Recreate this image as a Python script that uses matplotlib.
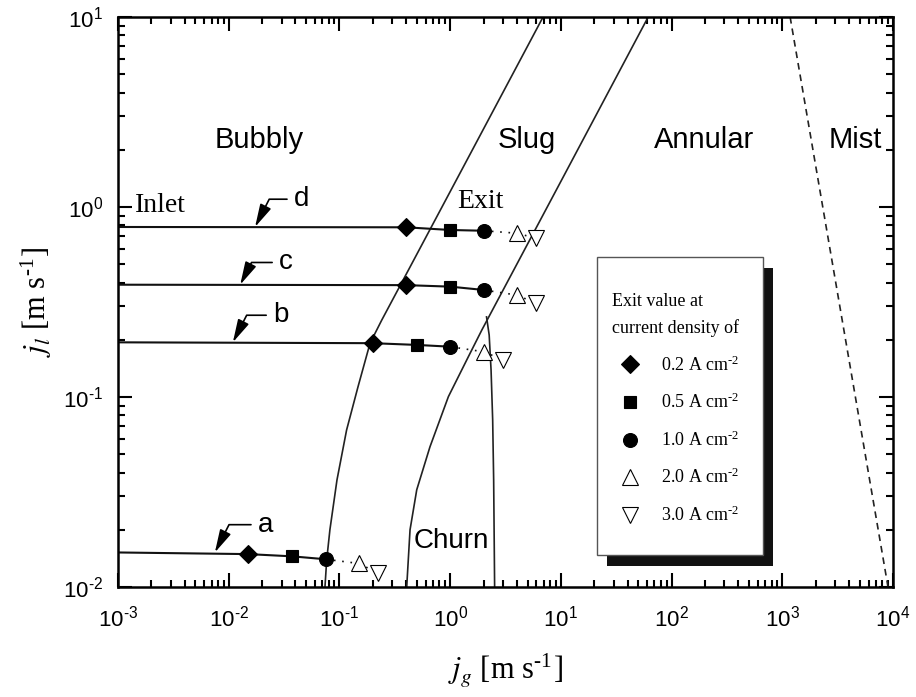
import numpy as np
import matplotlib
matplotlib.use('Agg')
import matplotlib.pyplot as plt
from matplotlib.lines import Line2D
from matplotlib.patches import Rectangle
from matplotlib.ticker import LogLocator, FixedLocator, FuncFormatter, NullFormatter

plt.rcParams['mathtext.fontset'] = 'stix'
plt.rcParams['font.family'] = 'Liberation Sans'

HY = '\u2010'  # short hyphen for exponents

# exit values per current density (A cm-2)
current = [0.2, 0.5, 1.0, 2.0, 3.0]
jg_a = [0.015, 0.0375, 0.075, 0.15, 0.225]
jl_a = [0.0149, 0.0145, 0.0140, 0.0133, 0.0118]
jg_b = [0.2, 0.5, 1.0, 2.0, 3.0]
jl_b = [0.192, 0.188, 0.184, 0.173, 0.157]
jg_c = [0.4, 1.0, 2.0, 4.0, 6.0]
jl_c = [0.388, 0.381, 0.366, 0.344, 0.311]
jg_d = [0.4, 1.0, 2.0, 4.0, 6.0]
jl_d = [0.782, 0.757, 0.750, 0.728, 0.684]
# inlet values
jg_inlet = 1e-3
jl_inlet = {'a': 0.0152, 'b': 0.194, 'c': 0.39, 'd': 0.785}
# tip of the label arrows on each line, and text offsets (pt)
arrow_tip = {'a': (0.0075, 0.0152), 'b': (0.0109, 0.194),
             'c': (0.0127, 0.39), 'd': (0.0173, 0.785)}
label_off = {'a': (31, 20), 'b': (29, 19.5), 'c': (28, 16), 'd': (28, 20)}

# flow regime boundaries
bs_jg = [6.9, 1.61, 0.376, 0.241, 0.189, 0.147, 0.116, 0.095, 0.082, 0.0767, 0.074]
bs_jl = [10, 2.03, 0.413, 0.254, 0.192, 0.113, 0.067, 0.0366, 0.020, 0.01387, 0.01]
sa_jg = [61.4, 10.9, 1.93, 1.46, 0.964, 0.657, 0.499, 0.434, 0.405]
sa_jl = [10, 1.50, 0.225, 0.163, 0.1005, 0.0547, 0.0325, 0.020, 0.01]
ch_jg = [2.13, 2.25, 2.34, 2.42, 2.47, 2.52]
ch_jl = [0.264, 0.212, 0.139, 0.0757, 0.0366, 0.01]
mist_jg = [1175, 9000]
mist_jl = [10, 0.01]

x_exp = [-3, -2, -1, 0, 1, 2, 3, 4]
y_exp = [-2, -1, 0, 1]

markers = ['D', 's', 'o', '^', 'v']
msizes = [9, 8.5, 10, 12, 12]
filled = [True, True, True, False, False]

fig = plt.figure(figsize=(9.16, 6.97), dpi=100)
ax = fig.add_axes([0.1288, 0.1578, 0.8462, 0.8178])
ax.set_xscale('log')
ax.set_yscale('log')
ax.set_xlim(1e-3, 1e4)
ax.set_ylim(1e-2, 1e1)

ax.plot(bs_jg, bs_jl, color='#222222', lw=1.2)
ax.plot(sa_jg, sa_jl, color='#222222', lw=1.2)
ax.plot(ch_jg, ch_jl, color='#222222', lw=1.2)
ax.plot(mist_jg, mist_jl, color='#222222', lw=1.2, ls=(0, (4, 3)))

series = {'a': (jg_a, jl_a), 'b': (jg_b, jl_b), 'c': (jg_c, jl_c), 'd': (jg_d, jl_d)}
for key, (jg, jl) in series.items():
    ax.plot([jg_inlet] + jg[:3], [jl_inlet[key]] + jl[:3], color='#111111', lw=1.5)
    ax.plot(jg[2:], jl[2:], color='#111111', lw=1.2, ls=(0, (1, 4)))
    for i in range(5):
        ax.plot(jg[i], jl[i], marker=markers[i], ms=msizes[i], ls='none',
                mfc='black' if filled[i] else 'white', mec='black',
                mew=0.8, zorder=4)
    ax.annotate(key, xy=arrow_tip[key], xytext=label_off[key], textcoords='offset points',
                fontsize=20, ha='left', va='center',
                arrowprops=dict(arrowstyle='-|>,head_length=0.7,head_width=0.18',
                                color='black', lw=1.2, shrinkA=3, shrinkB=0,
                                connectionstyle='angle,angleA=180,angleB=63,rad=0'))

# regime labels
ax.text(0.0188, 2.25, 'Bubbly', fontsize=21, ha='center', va='center')
ax.text(4.95, 2.25, 'Slug', fontsize=21, ha='center', va='center')
ax.text(197, 2.25, 'Annular', fontsize=21, ha='center', va='center')
ax.text(4545, 2.25, 'Mist', fontsize=21, ha='center', va='center')
ax.text(1.02, 0.0175, 'Churn', fontsize=20, ha='center', va='center')
ax.text(0.00143, 1.02, 'Inlet', fontsize=20, ha='left', va='center', family='Liberation Serif')
ax.text(1.86, 1.07, 'Exit', fontsize=20, ha='center', va='center', family='Liberation Serif')

# axes styling
def fmt(v, p):
    e = int(round(np.log10(v)))
    s = (HY + str(-e)) if e < 0 else str(e)
    return r'10$^{\mathregular{%s}}$' % s

for sp in ax.spines.values():
    sp.set_linewidth(1.8)
ax.xaxis.set_major_locator(FixedLocator([10.0 ** e for e in x_exp]))
ax.yaxis.set_major_locator(FixedLocator([10.0 ** e for e in y_exp]))
for axis in (ax.xaxis, ax.yaxis):
    axis.set_minor_locator(LogLocator(base=10, subs=np.arange(2, 10), numticks=20))
    axis.set_major_formatter(FuncFormatter(fmt))
    axis.set_minor_formatter(NullFormatter())
ax.tick_params(which='both', direction='in', top=True, right=True, width=1.5)
ax.tick_params(which='major', length=10, labelsize=16)
ax.tick_params(which='minor', length=5)
ax.tick_params(axis='x', which='major', pad=14)
ax.tick_params(axis='y', which='major', pad=11)

ax.set_xlabel(r'$j_g$ [m s$^{\mathregular{%s1}}$]' % HY, fontsize=22, family='Liberation Serif', labelpad=14)
ax.set_ylabel(r'$j_l$ [m s$^{\mathregular{%s1}}$]' % HY, fontsize=22, family='Liberation Serif', labelpad=6)

# legend box with solid shadow
box_x0, box_y0, box_w, box_h = 0.618, 0.056, 0.214, 0.523
sx = 10 / (0.8462 * 916)
sy = 11 / (0.8178 * 697)
ax.add_patch(Rectangle((box_x0 + sx, box_y0 - sy), box_w, box_h, transform=ax.transAxes,
                       facecolor='#111111', edgecolor='none', zorder=5.5, clip_on=False))
ax.add_patch(Rectangle((box_x0, box_y0), box_w, box_h, transform=ax.transAxes,
                       facecolor='white', edgecolor='#555555', lw=1.0, zorder=5.6, clip_on=False))

handles = []
for i in range(5):
    handles.append(Line2D([], [], marker=markers[i], ms=msizes[i], ls='none',
                          mfc='black' if filled[i] else 'white', mec='black', mew=0.8))
labels = [r'%.1f A cm$^{\mathregular{%s2}}$' % (c, HY) for c in current]
leg = ax.legend(handles, labels, loc='upper left', bbox_to_anchor=(0.6068, 0.5565),
                title='Exit value at\ncurrent density of', alignment='left',
                prop={'family': 'Liberation Serif', 'size': 13},
                title_fontproperties={'family': 'Liberation Serif', 'size': 13},
                frameon=False, borderpad=1.3, labelspacing=1.0, handletextpad=0.75,
                borderaxespad=0)
leg.get_title().set_linespacing(1.65)
leg.set_zorder(6)

fig.savefig('out.png', dpi=100)
